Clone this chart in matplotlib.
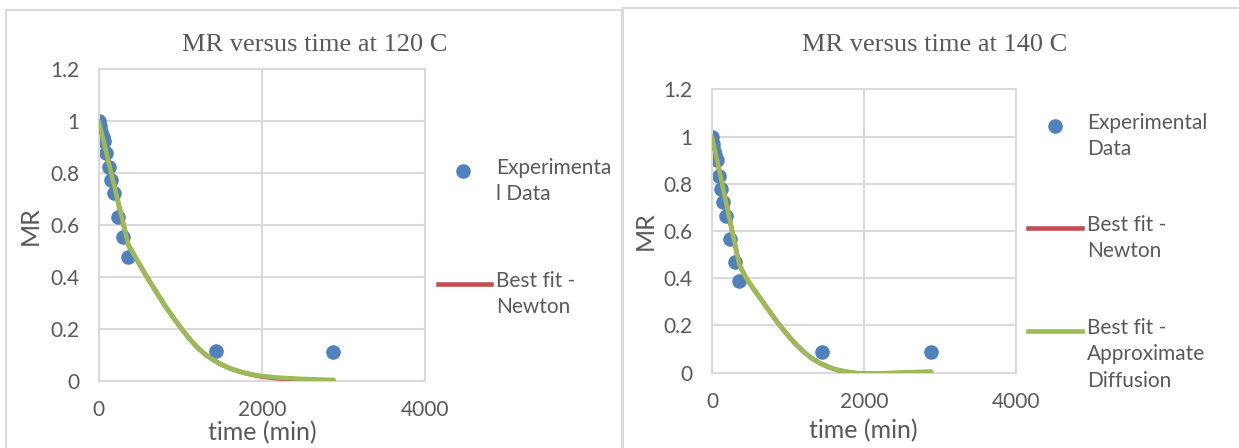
import matplotlib.pyplot as plt
from matplotlib.lines import Line2D
from matplotlib.patches import Rectangle

# ======= data: 120 C =======
t_exp_120 = [0, 15, 30, 45, 60, 90, 120, 150, 180, 240, 300, 360, 1440, 2880]
mr_exp_120 = [1.0, 0.98, 0.96, 0.94, 0.925, 0.877, 0.823, 0.774, 0.725, 0.633, 0.555, 0.476, 0.115, 0.113]

t_fit_120 = [0, 360, 450, 600, 700, 800, 900, 1000, 1100, 1200, 1300, 1400, 1500,
             1600, 1700, 1800, 1900, 2000, 2200, 2500, 2880]
mr_newton_120 = [1.0, 0.525, 0.475, 0.395, 0.345, 0.295, 0.25, 0.207, 0.167, 0.132, 0.104,
                 0.082, 0.064, 0.050, 0.039, 0.030, 0.023, 0.017, 0.010, 0.004, 0.001]
mr_diff_120 = [1.0, 0.525, 0.475, 0.395, 0.345, 0.295, 0.25, 0.207, 0.167, 0.132, 0.104,
               0.082, 0.064, 0.050, 0.039, 0.030, 0.024, 0.019, 0.013, 0.008, 0.004]

# ======= data: 140 C =======
t_exp_140 = [0, 15, 30, 45, 60, 90, 120, 150, 180, 240, 300, 360, 1440, 2880]
mr_exp_140 = [1.0, 0.97, 0.94, 0.92, 0.90, 0.833, 0.778, 0.723, 0.665, 0.566, 0.47, 0.39, 0.086, 0.086]

t_fit_140 = [0, 360, 450, 550, 650, 760, 870, 980, 1090, 1200, 1310, 1420, 1530, 1640,
             1750, 1860, 1970, 2190, 2400, 2880]
mr_newton_140 = [1.0, 0.455, 0.40, 0.353, 0.308, 0.258, 0.209, 0.165, 0.124, 0.09, 0.061,
                 0.040, 0.024, 0.012, 0.004, -0.001, -0.004, -0.005, -0.003, 0.001]
mr_diff_140 = [1.0, 0.455, 0.40, 0.353, 0.308, 0.258, 0.209, 0.165, 0.124, 0.09, 0.061,
               0.040, 0.025, 0.013, 0.006, 0.0, -0.003, -0.003, 0.0, 0.005]

titles = ["MR versus time at 120 C", "MR versus time at 140 C"]

BLUE = "#4F81BD"
RED = "#C0504D"
GREEN = "#9BBB59"
GRID = "#d9d9d9"
TXT = "#595959"
SANS = "Lato"
SERIF = "Liberation Serif"

fig = plt.figure(figsize=(12.39, 4.48), dpi=100)

W, H = 1239.0, 448.0


def fx(px):
    return px / W


def fy(py):
    return 1 - py / H


# panel frames
fig.add_artist(Rectangle((fx(6), fy(460)), fx(622 - 6), fy(10) - fy(460),
                         transform=fig.transFigure, fill=False, ec=GRID, lw=1.5))
fig.add_artist(Rectangle((fx(623), fy(460)), fx(1245 - 623), fy(8) - fy(460),
                         transform=fig.transFigure, fill=False, ec=GRID, lw=1.5))

panels = [
    dict(box=[fx(98.9), fy(381), fx(424.7 - 98.9), fy(69.3) - fy(381)],
         t_exp=t_exp_120, mr_exp=mr_exp_120, t_fit=t_fit_120,
         newton=mr_newton_120, diff=mr_diff_120, title=titles[0],
         title_x=315, title_y=45, mr_x=30, time_x=262, time_y=433),
    dict(box=[fx(712), fy(372.7), fx(1016.4 - 712), fy(89.3) - fy(372.7)],
         t_exp=t_exp_140, mr_exp=mr_exp_140, t_fit=t_fit_140,
         newton=mr_newton_140, diff=mr_diff_140, title=titles[1],
         title_x=935, title_y=45, mr_x=645, time_x=863, time_y=431),
]

for p in panels:
    ax = fig.add_axes(p["box"])
    ax.plot(p["t_fit"], p["newton"], color=RED, lw=3.3, zorder=3,
            solid_capstyle="round", solid_joinstyle="round")
    ax.plot(p["t_fit"], p["diff"], color=GREEN, lw=3.3, zorder=4,
            solid_capstyle="round", solid_joinstyle="round")
    ax.plot(p["t_exp"], p["mr_exp"], "o", color=BLUE, ms=10.5, zorder=2, mec="none")
    ax.set_xlim(0, 4000)
    ax.set_ylim(0, 1.2)
    ax.set_xticks([0, 2000, 4000])
    ax.set_yticks([0, 0.2, 0.4, 0.6, 0.8, 1.0, 1.2])
    ax.set_yticklabels(["0", "0.2", "0.4", "0.6", "0.8", "1", "1.2"])
    ax.grid(True, color=GRID, lw=1.5)
    ax.set_axisbelow(True)
    for s in ax.spines.values():
        s.set_color(GRID)
        s.set_linewidth(1.5)
    ax.tick_params(length=0, pad=14, labelsize=15, labelcolor=TXT)
    for lab in ax.get_xticklabels() + ax.get_yticklabels():
        lab.set_family(SANS)

    fig.text(fx(p["title_x"]), fy(p["title_y"]), p["title"], family=SERIF, fontsize=19,
             color=TXT, ha="center", va="center")
    fig.text(fx(p["time_x"]), fy(p["time_y"]), "time (min)", family=SANS, fontsize=18,
             color=TXT, ha="center", va="center")
    fig.text(fx(p["mr_x"]), p["box"][1] + p["box"][3] / 2, "MR", family=SANS,
             fontsize=18, color=TXT, ha="center", va="center", rotation=90)

# ======= legends (drawn by hand, like the Excel layout) =======
LEG = 15
LS = 1.4

# left panel
fig.add_artist(Line2D([fx(463)], [fy(171)], marker="o", color=BLUE, ms=10.5,
                      mec="none", transform=fig.transFigure))
fig.text(fx(496), fy(158), "Experimenta\nl Data", family=SANS, fontsize=LEG,
         color=TXT, ha="left", va="top", linespacing=LS)
fig.add_artist(Line2D([fx(438), fx(491)], [fy(284), fy(284)], color=RED, lw=3.3,
                      transform=fig.transFigure))
fig.text(fx(496), fy(271), "Best fit -\nNewton", family=SANS, fontsize=LEG,
         color=TXT, ha="left", va="top", linespacing=LS)

# right panel
fig.add_artist(Line2D([fx(1055)], [fy(126)], marker="o", color=BLUE, ms=10.5,
                      mec="none", transform=fig.transFigure))
fig.text(fx(1087), fy(113), "Experimental\nData", family=SANS, fontsize=LEG,
         color=TXT, ha="left", va="top", linespacing=LS)
fig.add_artist(Line2D([fx(1028), fx(1082)], [fy(228), fy(228)], color=RED, lw=3.3,
                      transform=fig.transFigure))
fig.text(fx(1087), fy(215), "Best fit -\nNewton", family=SANS, fontsize=LEG,
         color=TXT, ha="left", va="top", linespacing=LS)
fig.add_artist(Line2D([fx(1028), fx(1082)], [fy(331), fy(331)], color=GREEN, lw=3.3,
                      transform=fig.transFigure))
fig.text(fx(1087), fy(318), "Best fit -\nApproximate\nDiffusion", family=SANS,
         fontsize=LEG, color=TXT, ha="left", va="top", linespacing=LS)

fig.savefig("out.png", dpi=100)
